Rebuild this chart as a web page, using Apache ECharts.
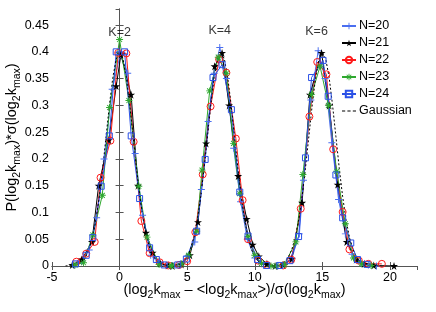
<!DOCTYPE html>
<html><head><meta charset="utf-8">
<script src="https://cdn.jsdelivr.net/npm/echarts@6/dist/echarts.min.js"></script>
<style>html,body{margin:0;padding:0;background:#fff}#c{width:436px;height:312px}</style>
</head><body><div id="c"></div>
<script>
// ---- data ----
const seriesNames = ['N=20', 'N=21', 'N=22', 'N=23', 'N=24'];
const gaussName = 'Gaussian';

const n20_k2 = [[-3.4,0.002],[-2.8,0.009],[-2.25,0.03],[-1.7,0.09],[-1.15,0.2],[-0.55,0.33],[0.05,0.395],[0.6,0.36],[1.15,0.21],[1.7,0.095],[2.3,0.02],[2.85,0.007],[3.45,0.001]];
const n21_k2 = [[-3.5,0.002],[-2.8,0.012],[-2.05,0.045],[-1.55,0.15],[-0.8,0.235],[-0.25,0.336],[0.1,0.395],[0.85,0.32],[1.36,0.15],[1.95,0.062],[2.45,0.025],[3.0,0.005],[3.6,0.001]];
const n22_k2 = [[-3.2,0.008],[-2.47,0.023],[-1.84,0.045],[-1.41,0.165],[-0.68,0.234],[-0.1,0.398],[0.5,0.397],[1.04,0.232],[1.61,0.084],[2.22,0.024],[2.96,0.007],[3.6,0.001]];
const n23_k2 = [[-3.3,0.002],[-2.67,0.006],[-1.98,0.058],[-1.28,0.132],[-0.74,0.296],[0,0.423],[0.69,0.309],[1.42,0.149],[2.03,0.054],[2.92,0.003],[3.85,0.0]];
const n24_k2 = [[-3.26,0.004],[-2.47,0.02],[-1.98,0.053],[-1.36,0.149],[-0.76,0.243],[-0.25,0.4],[0.37,0.4],[0.86,0.243],[1.48,0.126],[2.22,0.034],[2.72,0.012],[3.3,0.002]];

const n20_k4 = [[3.95,0.001],[4.5,0.004],[5.0,0.018],[5.56,0.045],[6.05,0.143],[6.55,0.27],[7.0,0.36],[7.41,0.408],[7.9,0.35],[8.44,0.22],[8.95,0.12],[9.45,0.05],[10.0,0.015],[10.5,0.004],[11.1,0.001],[11.7,0.0]];
const n21_k4 = [[3.9,0.0],[4.57,0.003],[5.2,0.02],[5.8,0.082],[6.4,0.229],[7.03,0.373],[7.58,0.398],[8.1,0.3],[8.77,0.168],[9.4,0.088],[9.85,0.04],[10.3,0.018],[10.9,0.004],[11.5,0.0]];
const n22_k4 = [[4.4,0.002],[5.0,0.009],[5.6,0.063],[6.15,0.171],[6.73,0.298],[7.36,0.386],[7.9,0.361],[8.6,0.238],[9.1,0.123],[9.5,0.05],[10.25,0.01],[10.9,0.002]];
const n23_k4 = [[3.83,0.001],[4.6,0.004],[5.1,0.02],[5.7,0.065],[6.1,0.179],[6.66,0.327],[7.3,0.39],[7.9,0.36],[8.43,0.229],[8.89,0.135],[9.5,0.055],[10.0,0.02],[10.5,0.005],[11.2,0.0]];
const n24_k4 = [[4.3,0.002],[4.94,0.013],[5.7,0.065],[6.33,0.199],[6.91,0.352],[7.58,0.376],[8.27,0.292],[8.89,0.138],[9.5,0.056],[10.2,0.012],[10.86,0.001]];

const n20_k6 = [[11.6,0.0],[12.2,0.003],[12.75,0.015],[13.3,0.06],[13.6,0.16],[14.15,0.31],[14.69,0.402],[15.2,0.35],[15.7,0.23],[16.2,0.124],[16.7,0.06],[17.2,0.022],[17.8,0.006],[18.4,0.002],[19.0,0.0]];
const n21_k6 = [[12.1,0.002],[12.74,0.013],[13.5,0.118],[14.08,0.32],[14.94,0.398],[15.5,0.3],[16.13,0.152],[16.8,0.045],[17.5,0.012],[18.1,0.004],[18.8,0.001],[20.3,0.0]];
const n22_k6 = [[12.1,0.001],[12.7,0.012],[13.4,0.107],[14.04,0.279],[14.62,0.381],[15.3,0.358],[15.8,0.218],[16.5,0.101],[17.0,0.031],[17.7,0.01],[18.4,0.004],[19.4,0.004]];
const n23_k6 = [[11.6,0.0],[12.2,0.003],[13.04,0.045],[13.56,0.171],[14.2,0.32],[14.83,0.373],[15.45,0.3],[16.06,0.177],[16.7,0.079],[17.3,0.015],[17.9,0.004],[18.6,0.001]];
const n24_k6 = [[11.85,0.001],[12.6,0.01],[13.24,0.055],[13.75,0.202],[14.2,0.352],[15.05,0.384],[15.43,0.317],[16.0,0.17],[16.5,0.09],[17.1,0.043],[17.6,0.012],[18.3,0.003]];

const gauss_k2 = [[-4,0.0001],[-3.5,0.0009],[-3,0.0044],[-2.75,0.0091],[-2.5,0.0175],[-2.25,0.0317],[-2,0.054],[-1.75,0.0863],[-1.5,0.1295],[-1.25,0.1826],[-1,0.242],[-0.75,0.3011],[-0.5,0.3521],[-0.25,0.3867],[0,0.3989],[0.25,0.3867],[0.5,0.3521],[0.75,0.3011],[1,0.242],[1.25,0.1826],[1.5,0.1295],[1.75,0.0863],[2,0.054],[2.25,0.0317],[2.5,0.0175],[2.75,0.0091],[3,0.0044],[3.5,0.0009],[4,0.0001]];
const gauss_k4 = [[3.5,0.0001],[4,0.0009],[4.5,0.0044],[4.75,0.0091],[5,0.0175],[5.25,0.0317],[5.5,0.054],[5.75,0.0863],[6,0.1295],[6.25,0.1826],[6.5,0.242],[6.75,0.3011],[7,0.3521],[7.25,0.3867],[7.5,0.3989],[7.75,0.3867],[8,0.3521],[8.25,0.3011],[8.5,0.242],[8.75,0.1826],[9,0.1295],[9.25,0.0863],[9.5,0.054],[9.75,0.0317],[10,0.0175],[10.25,0.0091],[10.5,0.0044],[11,0.0009],[11.5,0.0001]];
const gauss_k6 = [[11,0.0001],[11.5,0.0009],[12,0.0044],[12.25,0.0091],[12.5,0.0175],[12.75,0.0317],[13,0.054],[13.25,0.0863],[13.5,0.1295],[13.75,0.1826],[14,0.242],[14.25,0.3011],[14.5,0.3521],[14.75,0.3867],[15,0.3989],[15.25,0.3867],[15.5,0.3521],[15.75,0.3011],[16,0.242],[16.25,0.1826],[16.5,0.1295],[16.75,0.0863],[17,0.054],[17.25,0.0317],[17.5,0.0175],[17.75,0.0091],[18,0.0044],[18.5,0.0009],[19,0.0001]];

const kLabels = [[0, 0.436, 'K=2'], [7.41, 0.439, 'K=4'], [14.57, 0.438, 'K=6']];

const seriesData = [
  [n20_k2, n20_k4, n20_k6],
  [n21_k2, n21_k4, n21_k6],
  [n22_k2, n22_k4, n22_k6],
  [n23_k2, n23_k4, n23_k6],
  [n24_k2, n24_k4, n24_k6]
];
const gaussData = [gauss_k2, gauss_k4, gauss_k6];

// ---- styles ----
const PLUS = 'path://M4.3,0H5.7V4.3H10V5.7H5.7V10H4.3V5.7H0V4.3H4.3Z';
const STAR = 'path://M5,0L6.18,3.62L10,3.62L6.91,5.86L8.09,9.51L5,7.27L1.91,9.51L3.09,5.86L0,3.62L3.82,3.62Z';
const AST = 'path://M0,4.35L10,4.35L10,5.65L0,5.65Z M5.65,0L5.65,10L4.35,10L4.35,0Z M1.92,0.98L9.02,8.08L8.08,9.02L0.98,1.92Z M0.98,8.08L8.08,0.98L9.02,1.92L1.92,9.02Z';
const DASHICON = 'path://M0,4.4H3.2V5.6H0Z M5.4,4.4H8.6V5.6H5.4Z M10.8,4.4H14V5.6H10.8Z';
const styles = [
  {color: '#4b6ff0', symbol: PLUS, size: 7, fill: '#4b6ff0', bw: 0},
  {color: '#000000', symbol: STAR, size: 8, fill: '#000000', bw: 0},
  {color: '#ff1a1a', symbol: 'circle', size: 7, fill: 'rgba(0,0,0,0)', bw: 1},
  {color: '#2ea82e', symbol: AST, size: 7, fill: '#2ea82e', bw: 0},
  {color: '#2a50e6', symbol: 'rect', size: 6, fill: 'rgba(0,0,0,0)', bw: 1}
];

const FONT = 'Liberation Sans, Arial, Helvetica, sans-serif';
const series = [];
seriesNames.forEach((nm, i) => {
  const st = styles[i];
  seriesData[i].forEach(d => {
    series.push({
      name: nm, type: 'line', data: d, symbol: st.symbol, symbolSize: st.size,
      showSymbol: true, showAllSymbol: true, silent: true,
      lineStyle: {color: st.color, width: 1},
      itemStyle: {color: st.fill, borderColor: st.color, borderWidth: st.bw},
      emphasis: {disabled: true}
    });
  });
});
gaussData.forEach(d => {
  series.push({
    name: gaussName, type: 'line', data: d, symbol: 'none', silent: true,
    lineStyle: {color: '#000', width: 1, type: [2, 2]},
    itemStyle: {color: '#000'},
    emphasis: {disabled: true}
  });
});
series.push({
  type: 'scatter', data: kLabels, symbolSize: 0, silent: true,
  label: {show: true, position: 'inside', formatter: p => p.data[2], color: '#000', fontSize: 12.5, fontFamily: FONT}
});

const rich = {
  m: {fontSize: 14.5, fontFamily: FONT, color: '#000', lineHeight: 22, verticalAlign: 'middle'},
  s: {fontSize: 10.5, fontFamily: FONT, color: '#000', lineHeight: 22, verticalAlign: 'bottom'}
};
const axisCommon = {
  axisLine: {show: true, lineStyle: {color: '#555', width: 1}},
  axisTick: {show: true, inside: true, length: 4, lineStyle: {color: '#555'}},
  splitLine: {show: false},
  nameMoveOverlap: false
};

const legendData = seriesNames.map(n => ({name: n}));
legendData.push({name: gaussName, icon: DASHICON, itemStyle: {color: '#000', borderWidth: 0}});

const chart = echarts.init(document.getElementById('c'), null, {renderer: 'canvas'});
chart.setOption({
  animation: false,
  backgroundColor: '#fff',
  grid: {left: 52, right: 19, top: 9, bottom: 46, containLabel: false, outerBoundsMode: 'none'},
  legend: {
    data: legendData,
    orient: 'vertical', left: 336, top: 14,
    itemWidth: 14, itemHeight: 8, itemGap: 3,
    textStyle: {fontSize: 12.5, fontFamily: FONT, color: '#000', lineHeight: 14, padding: [0,0,0,-2]},
    selectedMode: false
  },
  xAxis: [
    Object.assign({type: 'value', min: -5, max: 22, interval: 5, position: 'bottom',
      axisLabel: {fontSize: 12.5, fontFamily: FONT, color: '#000', margin: 5, showMaxLabel: false},
      name: '{m|(log}{s|2}{m|k}{s|max}{m| – <log}{s|2}{m|k}{s|max}{m|>)/σ(log}{s|2}{m|k}{s|max}{m|)}',
      nameLocation: 'middle', nameGap: 13, nameTextStyle: {rich: rich}}, axisCommon),
    Object.assign({type: 'value', min: -5, max: 22, interval: 5, position: 'top',
      axisLabel: {show: false}}, axisCommon)
  ],
  yAxis: [
    Object.assign({type: 'value', min: 0, max: 0.48, interval: 0.05, position: 'left',
      axisLabel: {fontSize: 12.5, fontFamily: FONT, color: '#000', margin: 3, showMaxLabel: false},
      name: '{m|P(log}{s|2}{m|k}{s|max}{m|)*σ(log}{s|2}{m|k}{s|max}{m|)}',
      nameLocation: 'middle', nameGap: 29, nameRotate: 90, nameTextStyle: {rich: rich}}, axisCommon),
    Object.assign({type: 'value', min: 0, max: 0.48, interval: 0.05, position: 'right',
      axisLabel: {show: false}}, axisCommon)
  ],
  series: series
});
</script>
</body></html>
